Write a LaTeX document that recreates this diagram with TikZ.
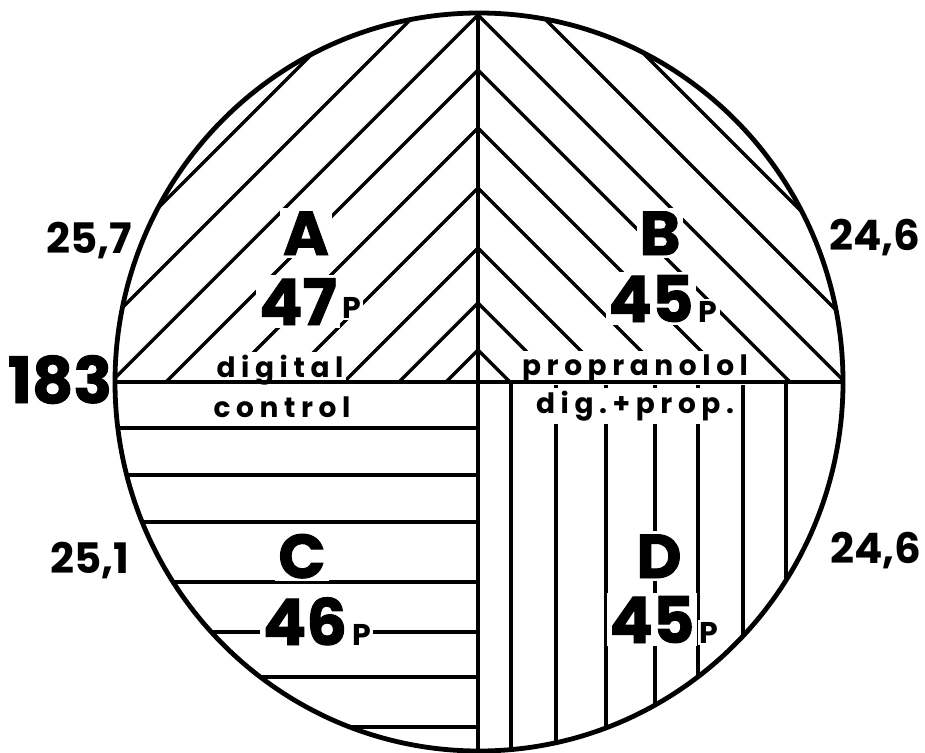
\documentclass[tikz,border=0pt]{standalone}
\usepackage{fontspec}
\setmainfont{Poppins}
\newfontfamily\heavyfont{Poppins}[FakeBold=1.5]
\usetikzlibrary{positioning}

\tikzset{
  hatch/.style={line width=3.3pt},
  rim/.style={line width=4.8pt},
  big/.style={font=\heavyfont\bfseries\fontsize{62}{62}\selectfont, anchor=base, inner sep=3pt, fill=white},
  num/.style={font=\heavyfont\bfseries\fontsize{64}{64}\selectfont, anchor=base, inner sep=3pt, fill=white},
  psub/.style={font=\bfseries\fontsize{30}{30}\selectfont, anchor=base west, inner sep=2pt, fill=white},
  word/.style={font=\bfseries\fontsize{28}{28}\selectfont\addfontfeatures{LetterSpace=20}, anchor=base, inner sep=3pt, fill=white},
  side/.style={font=\bfseries\fontsize{42}{42}\selectfont, anchor=base},
  total/.style={font=\heavyfont\bfseries\fontsize{64}{64}\selectfont, anchor=base},
}

\begin{document}
\begin{tikzpicture}[x=1pt, y=-1pt]
\useasboundingbox (0,0) rectangle (925,752);

\begin{scope}
  \clip (479,382) ellipse [x radius=364, y radius=369];
  \clip (0,0) rectangle (478,382);
  \foreach \c in {366,430,493,548,606,666,726,781,828}
    \draw[hatch] (\c-400,400) -- (\c,0);
\end{scope}
\begin{scope}
  \clip (479,382) ellipse [x radius=364, y radius=369];
  \clip (478,0) rectangle (925,382);
  \foreach \c in {366,430,493,548,606,666,726,781,828}
    \draw[hatch] (1356-\c,400) -- (956-\c,0);
\end{scope}
\begin{scope}
  \clip (479,382) ellipse [x radius=364, y radius=369];
  \foreach \y in {428,475,522,582,632,677,727}
    \draw[hatch] (0,\y) -- (478,\y);
  \foreach \x in {511,556,606,655,698,743,786}
    \draw[hatch] (\x,382) -- (\x,752);
\end{scope}

\node[big] (lA) at (306,255) {A};
\node[num] (nA) at (298,325) {47};
\node[psub] (pA) at ([yshift=7pt]nA.base east) {P};
\node[word] (wA) at (280,377) {digital};
\node[word] (wC) at (282,417) {control};

\node[big] (lB) at (660,255) {B};
\node[num] (nB) at (651,322) {45};
\node[psub] (pB) at (nB.base east) {P};
\node[word] (wB) at (635,375) {propranolol};
\node[word] (wD) at (635,413) {dig.+prop.};

\node[big] (lC) at (302,578) {C};
\node[num] (nC) at (305,645) {46};
\node[psub] (pC) at (nC.base east) {P};

\node[big] (lD) at (659,578) {D};
\node[num] (nD) at (652,643) {45};
\node[psub] (pD) at (nD.base east) {P};

\node[side] (tl) at (89,253) {25,7};
\node[side] (tr) at (875,250) {24,6};
\node[side] (bl) at (90,573) {25,1};
\node[side] (br) at (876,563) {24,6};
\node[total] (tot) at (60,403) {183};

\draw[rim] (115,382) -- (843,382);
\draw[rim] (478,13) -- (478,751);
\draw[rim] (479,382) ellipse [x radius=364, y radius=369];
\end{tikzpicture}
\end{document}
